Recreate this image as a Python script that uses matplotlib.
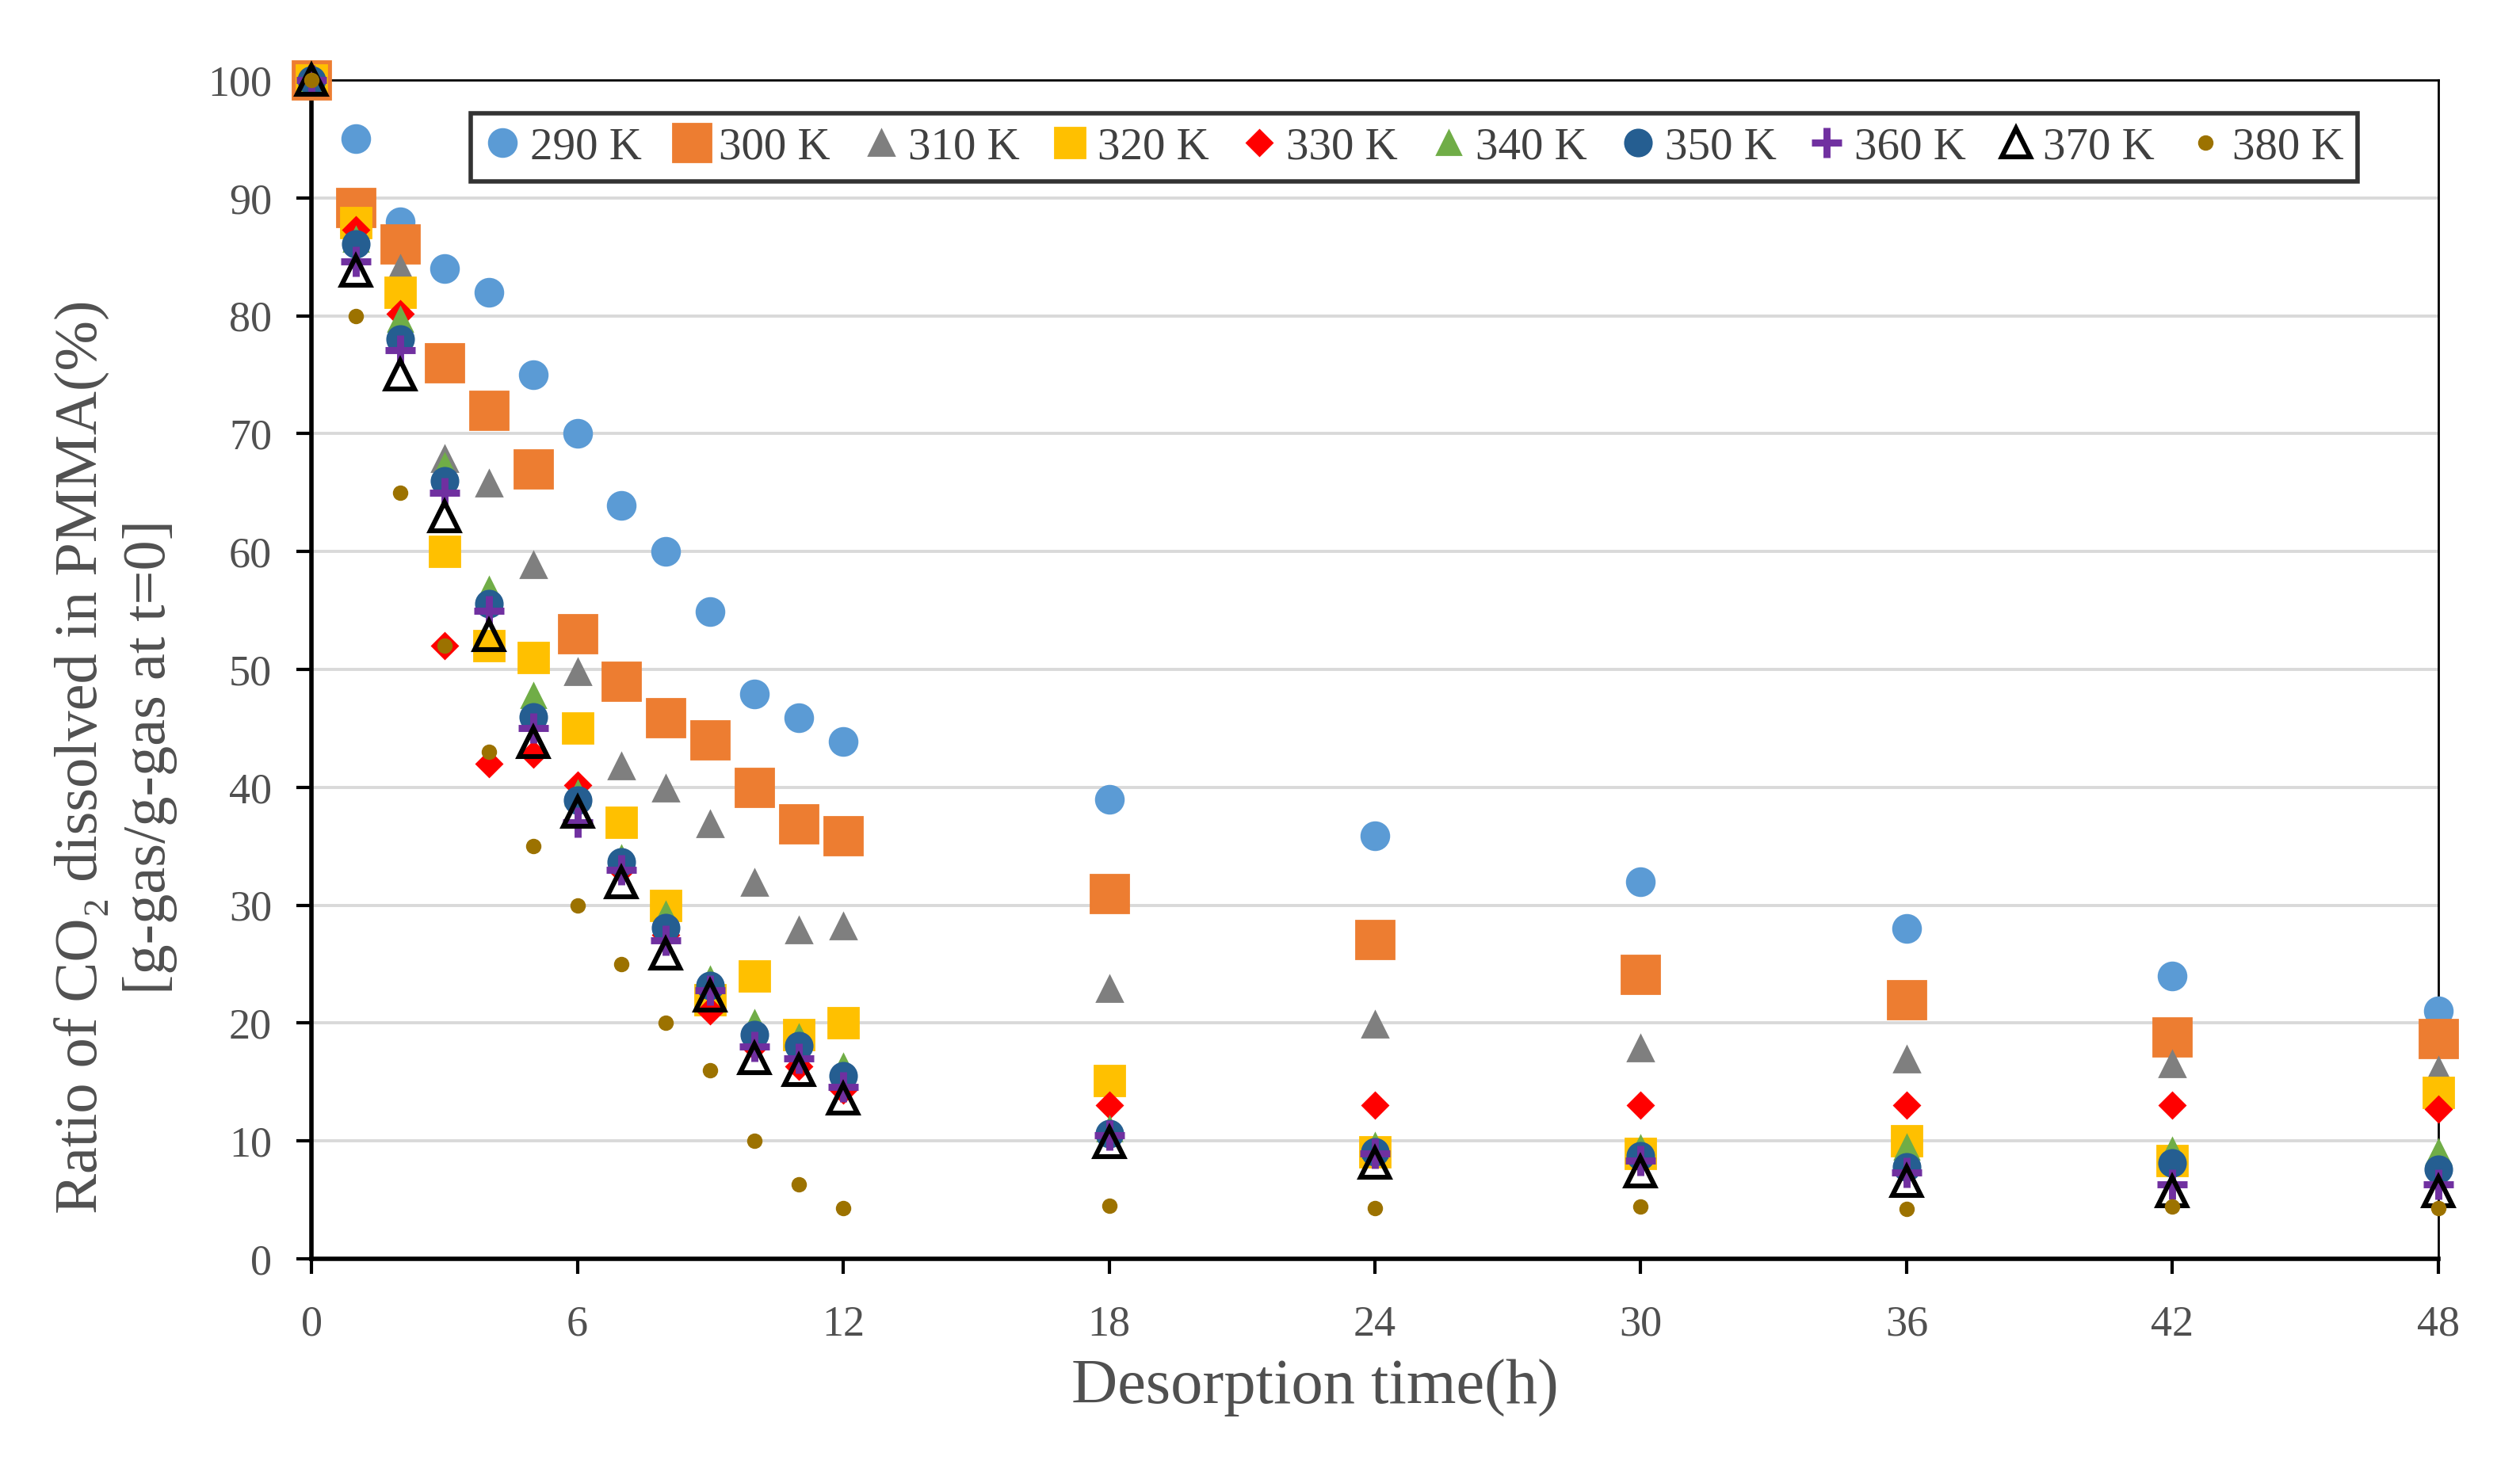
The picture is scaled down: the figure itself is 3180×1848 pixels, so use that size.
import matplotlib.pyplot as plt

plt.rcParams['font.family'] = ['Liberation Serif', 'DejaVu Serif']

# tempo de dessorção (h)
horas = [0, 1, 2, 3, 4, 5, 6, 7, 8, 9, 10, 11, 12, 18, 24, 30, 36, 42, 48]

# razão de CO2 dissolvido (%) para cada temperatura
k290 = [100, 95, 88, 84, 82, 75, 70, 63.9, 60, 54.9, 47.9, 45.9, 43.9, 39, 35.9, 32, 28, 24, 21]
k300 = [100, 89.2, 86.1, 76, 72, 67, 53, 49, 45.9, 44, 40, 36.9, 35.9, 31, 27.1, 24.1, 22, 18.8, 18.7]
k310 = [100, 88, 84, 67.9, 65.8, 58.9, 49.8, 41.8, 39.9, 36.9, 31.9, 27.9, 28.2, 22.9, 19.9, 17.9, 16.9, 16.5, 16]
k320 = [100, 87.9, 82, 60, 52, 51, 45, 37, 30, 22, 24, 19, 20, 15.1, 9.1, 8.9, 10, 8.3, 14.1]
k330 = [100, 87.3, 80.2, 52, 42, 42.8, 40.2, 33, 27.5, 21, 18, 16.3, 14.3, 13, 13, 13, 13, 13, 12.7]
k340 = [100, 86.5, 79.7, 67.3, 56.8, 47.8, 39.5, 34, 29.2, 23.7, 20, 18.8, 16.3, 11, 9.6, 9.4, 9.5, 9.2, 9.1]
k350 = [100, 86.1, 78, 66, 55.6, 46, 38.9, 33.7, 28.1, 23.2, 19, 18.1, 15.5, 10.6, 9.1, 8.7, 7.8, 8.1, 7.6]
k360 = [100, 84.6, 77.1, 65, 55, 45, 37, 33, 27, 22.8, 18, 17, 14.6, 10.5, 8.9, 8.3, 7.3, 6.3, 6.3]
k370 = [100, 83.8, 75, 63, 52.9, 43.8, 37.9, 31.9, 25.9, 22.3, 17, 16, 13.6, 9.9, 8.1, 7.4, 6.6, 5.7, 5.7]
k380 = [100, 80, 65, 52, 43, 35, 30, 25, 20, 16, 10, 6.3, 4.3, 4.5, 4.3, 4.4, 4.2, 4.4, 4.3]

nomes = ['290 K', '300 K', '310 K', '320 K', '330 K', '340 K', '350 K', '360 K', '370 K', '380 K']
series = [k290, k300, k310, k320, k330, k340, k350, k360, k370, k380]

# estilo dos marcadores (estilo Excel)
estilos = [
    dict(marker='o', ms=12.5, mfc='#5B9BD5', mec='#5B9BD5'),
    dict(marker='s', ms=17, mfc='#ED7D31', mec='#ED7D31'),
    dict(marker='^', ms=11.5, mfc='#7F7F7F', mec='#7F7F7F'),
    dict(marker='s', ms=13.5, mfc='#FFC000', mec='#FFC000'),
    dict(marker='D', ms=8, mfc='#FF0000', mec='#FF0000'),
    dict(marker='^', ms=11, mfc='#70AD47', mec='#70AD47'),
    dict(marker='o', ms=12, mfc='#255E91', mec='#255E91'),
    dict(marker='+', ms=14, mec='#7030A0', mew=3.2),
    dict(marker='^', ms=13, mfc='none', mec='black', mew=2.2),
    dict(marker='o', ms=6, mfc='#9C7200', mec='#9C7200'),
]

fig = plt.figure(figsize=(15.9, 9.24), dpi=200)
ax = fig.add_axes([0.1236, 0.1402, 0.8440, 0.8051])

for nome, valores, est in zip(nomes, series, estilos):
    ax.plot(horas, valores, linestyle='none', label=nome, clip_on=False, zorder=3, **est)

ax.set_xlim(0, 48)
ax.set_ylim(0, 100)
ax.set_xticks(range(0, 49, 6))
ax.set_yticks(range(0, 101, 10))

ax.grid(axis='y', color='#D9D9D9', linewidth=1.4)
ax.set_axisbelow(True)

for lado in ['left', 'bottom']:
    ax.spines[lado].set_linewidth(2.0)
for lado in ['top', 'right']:
    ax.spines[lado].set_linewidth(1.0)

ax.tick_params(axis='both', direction='out', length=7, width=1.5, colors='black',
               labelcolor='#505050', labelsize=19.5)
ax.tick_params(axis='x', pad=14)
ax.tick_params(axis='y', pad=11)

ax.set_xlabel('Desorption time(h)', fontsize=29, color='#505050')
ax.xaxis.set_label_coords(0.472, -0.085)
ax.set_ylabel('Ratio of CO\u2082 dissolved in PMMA(%)\n[g-gas/g-gas at t=0]',
              fontsize=27.5, color='#505050', linespacing=1.3)
ax.yaxis.set_label_coords(-0.063, 0.426)

leg = fig.legend(loc='upper center', bbox_to_anchor=(0.5612, 0.9226), ncol=10,
                 fontsize=20.5, frameon=True, fancybox=False, edgecolor='black',
                 handletextpad=0.2, columnspacing=0.72, handlelength=0.8,
                 borderpad=0.3, borderaxespad=0, labelcolor='#404040')
leg.get_frame().set_linewidth(2.0)

fig.savefig('out.png', dpi=200, facecolor='white')
